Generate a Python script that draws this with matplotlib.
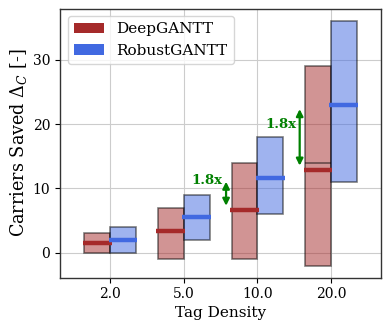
import matplotlib.pyplot as plt
import numpy as np

plt.rcParams['font.family'] = 'DejaVu Serif'
plt.rcParams['mathtext.fontset'] = 'dejavuserif'

densities = ['2.0', '5.0', '10.0', '20.0']

deep_min = [0.0, -1.0, -1.0, -2.0]
deep_max = [3.0, 7.0, 14.0, 29.0]
deep_med = [1.5, 3.35, 6.65, 12.9]

robust_min = [0.0, 2.0, 6.0, 11.0]
robust_max = [4.0, 9.0, 18.0, 36.0]
robust_med = [1.9, 5.6, 11.7, 23.0]

# extra line visible inside the last DeepGANTT box
deep_split = [None, None, None, 14.0]

ratio_labels = ['', '', '1.8x', '1.8x']

red = '#a52a2a'
blue = '#4169e1'

fig, ax = plt.subplots(figsize=(3.9, 3.31), dpi=100)
x = np.arange(len(densities))
w = 0.35

ax.bar(x - w / 2, np.array(deep_max) - np.array(deep_min), w, bottom=deep_min,
       color=red, alpha=0.5, edgecolor='black', linewidth=1.2, zorder=2)
ax.bar(x + w / 2, np.array(robust_max) - np.array(robust_min), w, bottom=robust_min,
       color=blue, alpha=0.5, edgecolor='black', linewidth=1.2, zorder=2)

for i in range(len(densities)):
    ax.hlines(deep_med[i], i - w - 0.02, i + 0.02, color=red, linewidth=3.2, zorder=3)
    ax.hlines(robust_med[i], i - 0.02, i + w + 0.02, color=blue, linewidth=3.2, zorder=3)
    if deep_split[i] is not None:
        ax.hlines(deep_split[i], i - w, i, color='black', alpha=0.5, linewidth=1.2, zorder=3)
    if ratio_labels[i]:
        xa = i - w - 0.075
        ax.annotate('', xy=(xa, robust_med[i]), xytext=(xa, deep_med[i]),
                    arrowprops=dict(arrowstyle='<|-|>', color='green', lw=1.6,
                                    mutation_scale=10, shrinkA=3, shrinkB=3),
                    zorder=4)
        ax.text(xa - 0.045, (deep_med[i] + robust_med[i]) / 2 + 2.0, ratio_labels[i],
                color='green', fontweight='bold', fontsize=9.5, ha='right', va='center')

# legend handles
ax.bar([0], [0], color=red, label='DeepGANTT')
ax.bar([0], [0], color=blue, label='RobustGANTT')

ax.set_xticks(x)
ax.set_xticklabels(densities, fontsize=10)
ax.set_yticks([0, 10, 20, 30])
ax.tick_params(axis='y', labelsize=10)
ax.set_xlim(-0.68, 3.68)
ax.set_ylim(-3.9, 38)
ax.set_xlabel('Tag Density', fontsize=11, labelpad=3)
ax.set_ylabel(r'Carriers Saved $\Delta_C$ [-]', fontsize=12.7, labelpad=3)
ax.grid(True, color='#cccccc', linewidth=0.8, zorder=0)
ax.set_axisbelow(True)
for s in ax.spines.values():
    s.set_color('#333333')
    s.set_linewidth(1.0)
ax.legend(loc='upper left', fontsize=11)

plt.subplots_adjust(left=0.154, right=0.977, top=0.974, bottom=0.161)
plt.savefig('out.png')
